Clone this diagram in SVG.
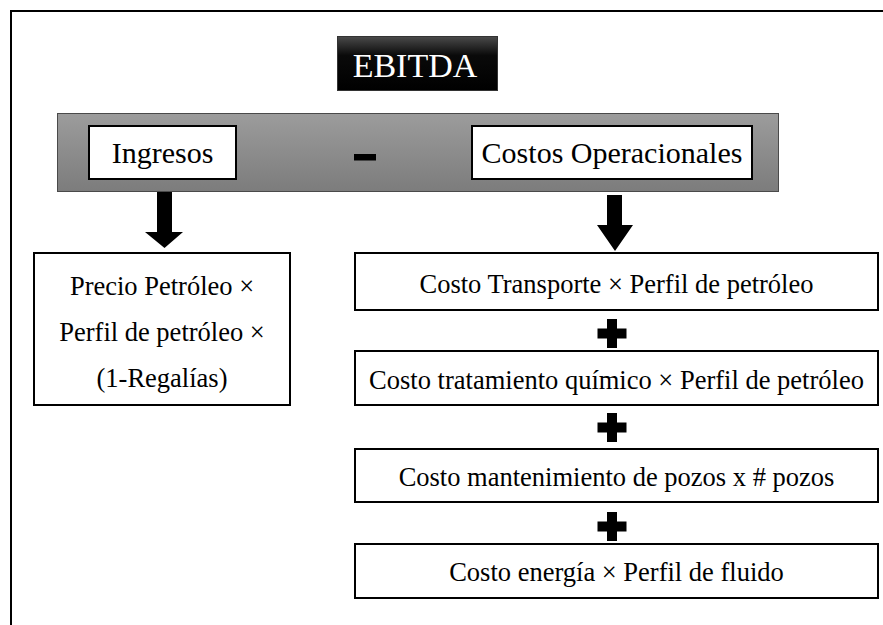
<svg xmlns="http://www.w3.org/2000/svg" width="883" height="625" viewBox="0 0 883 625">
<defs>
<linearGradient id="gBar" x1="0" y1="0" x2="0" y2="1">
<stop offset="0" stop-color="#9c9c9c"/>
<stop offset="1" stop-color="#7c7c7c"/>
</linearGradient>
<linearGradient id="gTitle" x1="0" y1="0" x2="0" y2="1">
<stop offset="0" stop-color="#4a4a4a"/>
<stop offset="0.35" stop-color="#0a0a0a"/>
<stop offset="1" stop-color="#000"/>
</linearGradient>
<style>
.box{fill:#fff;stroke:#000;stroke-width:2}
.t{font-family:"Liberation Serif","Times New Roman",serif;fill:#000;text-anchor:middle}
.big{font-size:30px}
.mid{font-size:26.5px}
.blk{fill:#000}
</style>
</defs>
<rect width="883" height="625" fill="#fff"/>
<g id="frame">
<line x1="11" y1="11" x2="883" y2="11" stroke="#000" stroke-width="2"/>
<line x1="11" y1="10" x2="11" y2="625" stroke="#000" stroke-width="2"/>
</g>
<g id="ebitda">
<rect x="337.5" y="36.5" width="160" height="54" fill="url(#gTitle)" stroke="#333" stroke-width="1"/>
<text x="415" y="77" class="t" style="font-size:34px;fill:#fff">EBITDA</text>
</g>
<g id="bar">
<rect x="57.5" y="113.5" width="721" height="78" fill="url(#gBar)" stroke="#4a4a4a" stroke-width="1"/>
</g>
<g id="ingresos">
<rect x="89" y="126" width="147" height="53" class="box"/>
<text x="162.5" y="163" class="t big">Ingresos</text>
</g>
<g id="minus">
<rect x="354" y="154" width="22" height="6.5" class="blk"/>
</g>
<g id="costos">
<rect x="472" y="126" width="280" height="53" class="box"/>
<text x="612" y="163" class="t big">Costos Operacionales</text>
</g>
<g id="connectors">
<polygon points="157,192 172,192 172,232 183,232 164.5,248 145,232 157,232" class="blk"/>
<polygon points="607,195 622,195 622,225 633,225 615,251 597,225 607,225" class="blk"/>
<path d="M607,319h10v9.5h9.5v10h-9.5v9.5h-10v-9.5h-9.5v-10h9.5z" class="blk"/>
<path d="M607,413h10v9.5h9.5v10h-9.5v9.5h-10v-9.5h-9.5v-10h9.5z" class="blk"/>
<path d="M607,512h10v9.5h9.5v10h-9.5v9.5h-10v-9.5h-9.5v-10h9.5z" class="blk"/>
</g>
<g id="ingresos-formula">
<rect x="34" y="253" width="256" height="152" class="box"/>
<text x="162" y="295" class="t mid">Precio Petróleo ×</text>
<text x="162" y="341" class="t mid">Perfil de petróleo ×</text>
<text x="162" y="387" class="t mid">(1-Regalías)</text>
</g>
<g id="costo-transporte">
<rect x="355" y="253" width="523" height="57" class="box"/>
<text x="616.5" y="293" class="t mid">Costo Transporte × Perfil de petróleo</text>
</g>
<g id="costo-quimico">
<rect x="355" y="351" width="523" height="54" class="box"/>
<text x="616.5" y="389" class="t mid">Costo tratamiento químico × Perfil de petróleo</text>
</g>
<g id="costo-mantenimiento">
<rect x="355" y="449" width="523" height="53" class="box"/>
<text x="616.5" y="486" class="t mid">Costo mantenimiento de pozos x # pozos</text>
</g>
<g id="costo-energia">
<rect x="355" y="544" width="523" height="54" class="box"/>
<text x="616.5" y="581" class="t mid">Costo energía × Perfil de fluido</text>
</g>
</svg>
